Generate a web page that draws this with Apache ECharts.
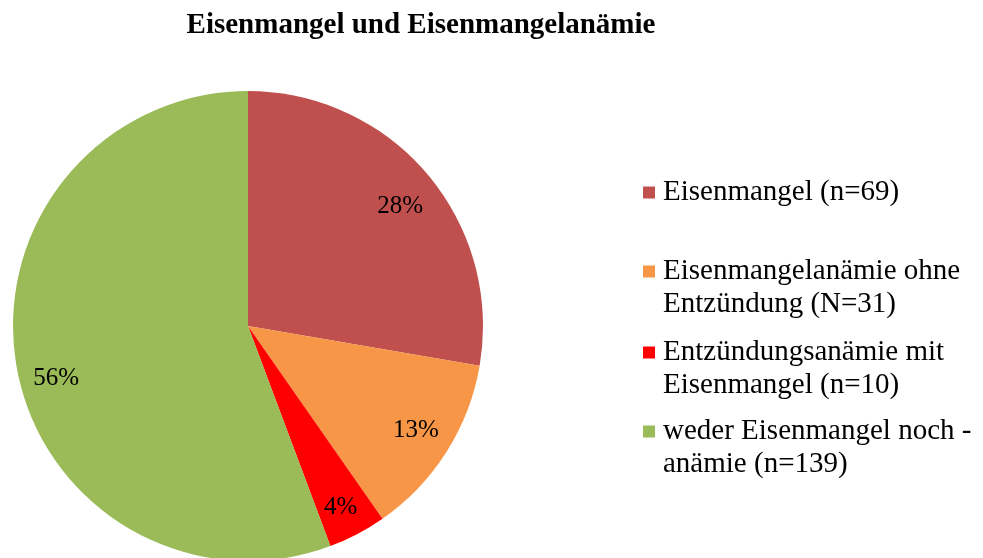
<!DOCTYPE html>
<html>
<head>
<meta charset="utf-8">
<script src="https://cdn.jsdelivr.net/npm/echarts@6/dist/echarts.min.js"></script>
<style>
  html, body { margin: 0; padding: 0; background: #fff; }
  #main { width: 983px; height: 558px; }
</style>
</head>
<body>
<div id="main"></div>
<script>
// Daten (Anteile in %)
var names = ['Eisenmangel (n=69)', 'Eisenmangelanämie ohne Entzündung (N=31)',
  'Entzündungsanämie mit Eisenmangel (n=10)', 'weder Eisenmangel noch -anämie (n=139)'];
var legendLines = [
  ['Eisenmangel (n=69)'],
  ['Eisenmangelanämie ohne', 'Entzündung (N=31)'],
  ['Entzündungsanämie mit', 'Eisenmangel (n=10)'],
  ['weder Eisenmangel noch -', 'anämie (n=139)']
];
var values = [27.7, 12.6, 4.0, 55.7];
var colors = ['#C0504D', '#F79646', '#FF0000', '#9BBB59'];

var font = '"Liberation Serif", "Times New Roman", serif';
var myChart = echarts.init(document.getElementById('main'));

var pieData = names.map(function (n, i) {
    return { name: n, value: values[i], itemStyle: { color: colors[i] } };
});

// kleine Verschiebungen der Beschriftung wie im Original (Excel "best fit")
var labelNudge = [[0, 9], [0, -2], [0, 5], [4, 17]];

// Legende: ein Block je Eintrag, Quadrat vor der ersten Zeile
var legendTops = [176, 255, 336, 415];
var legends = names.map(function (n, i) {
    var rich = {
        g: { width: 8 },
        ind: { width: 20 },
        t: { fontSize: 29, fontFamily: font, color: '#000', lineHeight: 33 }
    };
    rich['sq' + i] = { width: 12, height: 12, backgroundColor: colors[i] };
    return {
        data: [n],
        left: 638,
        top: legendTops[i],
        padding: 0,
        orient: 'vertical',
        icon: 'rect',
        itemWidth: 0,
        itemHeight: 0,
        selectedMode: false,
        textStyle: { fontFamily: font, fontSize: 29, color: '#000', lineHeight: 33, rich: rich },
        formatter: function () {
            var lines = legendLines[i];
            var s = '{sq' + i + '|}{g|}{t|' + lines[0] + '}';
            for (var k = 1; k < lines.length; k++) {
                s += '\n{ind|}{t|' + lines[k] + '}';
            }
            return s;
        }
    };
});

var option = {
    animation: false,
    title: {
        text: 'Eisenmangel und Eisenmangelanämie',
        left: 416,
        textAlign: 'center',
        top: 6,
        textStyle: { fontFamily: font, fontSize: 29, fontWeight: 'bold', color: '#000' }
    },
    legend: legends,
    series: [{
        type: 'pie',
        center: [248, 326],
        radius: [0, 235],
        startAngle: 90,
        clockwise: true,
        label: { show: false },
        labelLine: { show: false },
        emphasis: { disabled: true },
        itemStyle: { borderWidth: 0 },
        data: pieData
    }, {
        // nur für die Beschriftung (Position bei ca. 0,83 des Radius)
        type: 'pie',
        center: [248, 326],
        radius: [157, 235],
        startAngle: 90,
        clockwise: true,
        silent: true,
        emphasis: { disabled: true },
        itemStyle: { color: 'transparent', borderWidth: 0 },
        label: {
            show: true,
            position: 'inside',
            fontFamily: font,
            fontSize: 25,
            color: '#000',
            formatter: function (p) { return Math.round(p.value) + '%'; }
        },
        labelLine: { show: false },
        data: names.map(function (n, i) {
            return { name: n, value: values[i], label: { offset: labelNudge[i] } };
        })
    }]
};

myChart.setOption(option);
</script>
</body>
</html>
